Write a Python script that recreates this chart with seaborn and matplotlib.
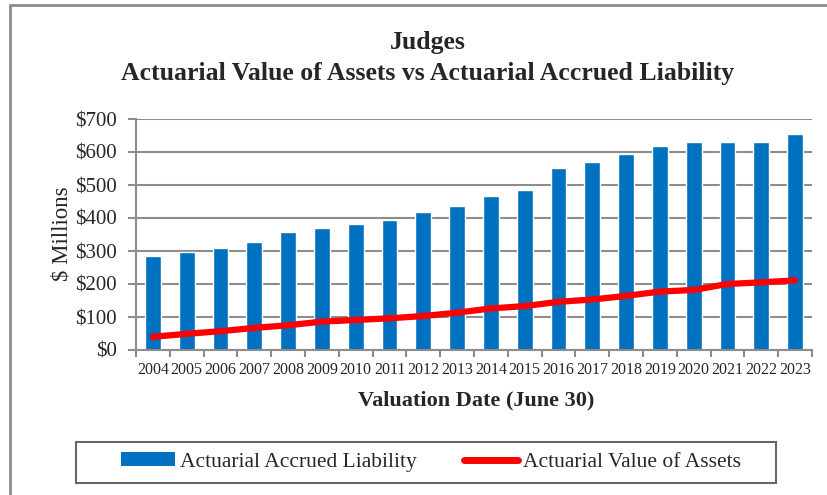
import numpy as np
import pandas as pd
import matplotlib
matplotlib.use("Agg")
import matplotlib.pyplot as plt
from matplotlib.lines import Line2D
from matplotlib.patches import Patch, Rectangle
from matplotlib.ticker import FixedLocator, FuncFormatter
import seaborn as sns

# values in $ millions
years = [str(y) for y in range(2004, 2024)]
liability = [286, 298, 310, 328, 358, 371, 383, 395, 419, 437,
             467, 486, 552, 571, 595, 619, 631, 631, 631, 655]
assets = [40, 49, 57, 67, 75, 86, 91, 96, 103, 113,
          126, 133, 146, 153, 164, 177, 182, 200, 205, 211]

df = pd.DataFrame({"year": years, "liability": liability, "assets": assets})

sns.set_style("white")
plt.rcParams["font.family"] = ["Liberation Serif", "DejaVu Serif"]

gray = "#8c8c8c"
blue = "#0070C0"

fig = plt.figure(figsize=(8.27, 4.95), dpi=100)
ax = fig.add_axes([136 / 827, 1 - 350 / 495, 676 / 827, 231 / 495])

sns.barplot(data=df, x="year", y="liability", color=blue, width=0.47,
            saturation=1, ax=ax)
sns.pointplot(data=df, x="year", y="assets", color="#FF0000", markers="",
              linestyles="-", lw=4.5, ax=ax)

ax.set_xlim(-0.5, len(years) - 0.5)
ax.set_ylim(0, 700)
ax.set_yticks(np.arange(0, 701, 100))
ax.yaxis.set_major_formatter(FuncFormatter(lambda v, p: f"${v:.0f}"))
ax.grid(axis="y", color=gray, lw=1.5)
ax.set_axisbelow(True)

for s in ["top", "right"]:
    ax.spines[s].set_visible(False)
for s in ["left", "bottom"]:
    ax.spines[s].set_color(gray)
    ax.spines[s].set_linewidth(1.5)

ax.xaxis.set_minor_locator(FixedLocator(np.arange(-0.5, len(years), 1)))
ax.tick_params(axis="x", which="major", length=0, labelsize=11.5, pad=9)
ax.tick_params(axis="x", which="minor", length=5, width=1.5, color=gray,
               direction="out", bottom=True)
ax.tick_params(axis="y", length=6, width=1.5, color=gray, direction="out",
               left=True, labelsize=15, pad=8)

ax.set_xlabel("")
ax.set_ylabel("")
fig.text(62 / 827, 1 - 234 / 495, "$ Millions", rotation=90, fontsize=16.5,
         ha="center", va="center")
fig.text(476 / 827, 1 - 400 / 495, "Valuation Date (June 30)", fontsize=16,
         fontweight="bold", ha="center", va="center")

fig.text(428 / 827, 1 - 42 / 495, "Judges", fontsize=18.5, fontweight="bold",
         ha="center", va="center")
fig.text(428 / 827, 1 - 73 / 495,
         "Actuarial Value of Assets vs Actuarial Accrued Liability",
         fontsize=18.5, fontweight="bold", ha="center", va="center")

# legend frame drawn separately so it can span the full box width
fig.add_artist(Rectangle((76 / 827, 1 - 483 / 495), 700 / 827, 41 / 495,
                         transform=fig.transFigure, facecolor="white",
                         edgecolor="#666666", lw=1.5))
handles = [Patch(facecolor=blue, edgecolor="none"),
           Line2D([], [], color="#FF0000", lw=5, solid_capstyle="round")]
labels = ["Actuarial Accrued Liability", "Actuarial Value of Assets"]
leg = fig.legend(handles, labels, loc="center",
                 bbox_to_anchor=(431 / 827, 1 - 462 / 495),
                 ncol=2, fontsize=15.5, frameon=False,
                 handlelength=2.5, handleheight=0.6,
                 handletextpad=0.25, columnspacing=2.2)

# outer chart border (left and top edges visible)
fig.add_artist(Line2D([10 / 827, 10 / 827], [0, 1 - 5 / 495],
                      color=gray, lw=2, transform=fig.transFigure))
fig.add_artist(Line2D([10 / 827, 1], [1 - 5 / 495, 1 - 5 / 495],
                      color=gray, lw=2, transform=fig.transFigure))

fig.savefig("out.png", dpi=100)
